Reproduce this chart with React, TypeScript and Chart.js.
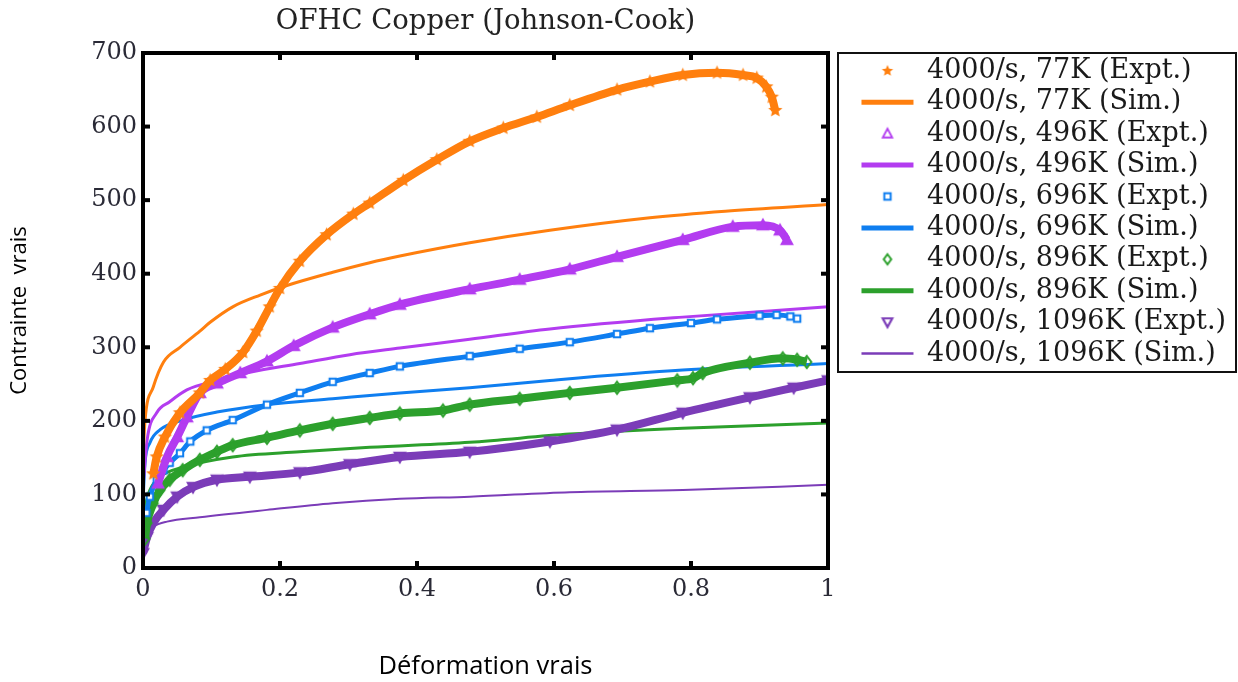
import React, { useEffect, useRef } from 'react';
import { Chart, registerables } from 'chart.js';

Chart.register(...registerables);

// ---------- text ----------
const TITLE = 'OFHC Copper (Johnson-Cook)';
const X_TITLE = 'Déformation vrais';
const Y_TITLE = 'Contrainte  vrais';
const xTickLabels = ['0', '0.2', '0.4', '0.6', '0.8', '1'];
const yTickLabels = ['0', '100', '200', '300', '400', '500', '600', '700'];

const seriesLabels = [
  '4000/s, 77K (Expt.)',
  '4000/s, 77K (Sim.)',
  '4000/s, 496K (Expt.)',
  '4000/s, 496K (Sim.)',
  '4000/s, 696K (Expt.)',
  '4000/s, 696K (Sim.)',
  '4000/s, 896K (Expt.)',
  '4000/s, 896K (Sim.)',
  '4000/s, 1096K (Expt.)',
  '4000/s, 1096K (Sim.)',
];

// ---------- data (true strain, true stress MPa) ----------
const expt77Strain = [0.015, 0.02, 0.032, 0.054, 0.083, 0.098, 0.12, 0.146, 0.166, 0.185, 0.2, 0.229, 0.268, 0.307, 0.331, 0.38, 0.429, 0.477, 0.526, 0.575, 0.623, 0.692, 0.74, 0.788, 0.838, 0.876, 0.896, 0.91, 0.918, 0.923];
const expt77Stress = [128, 151, 178, 211, 238, 255, 270, 293, 322, 355, 380, 417, 453, 481, 496, 527, 555, 580, 598, 613, 629, 650, 661, 670, 673, 670, 666, 654, 640, 622];

const sim77Strain = [0, 0.003, 0.015, 0.03, 0.054, 0.083, 0.098, 0.131, 0.171, 0.21, 0.277, 0.331, 0.375, 0.477, 0.594, 0.74, 0.85, 1.0];
const sim77Stress = [150, 201, 246, 280, 300, 322, 334, 355, 371, 384, 402, 415, 424, 442, 459, 476, 485, 494];

const expt496Strain = [0.022, 0.035, 0.05, 0.064, 0.083, 0.108, 0.142, 0.181, 0.22, 0.277, 0.331, 0.375, 0.477, 0.55, 0.623, 0.692, 0.788, 0.861, 0.905, 0.93, 0.94];
const expt496Stress = [115, 151, 178, 205, 238, 251, 265, 281, 302, 327, 345, 358, 379, 392, 406, 423, 446, 464, 466, 459, 446];

const sim496Strain = [0, 0.006, 0.02, 0.039, 0.064, 0.108, 0.156, 0.229, 0.302, 0.375, 0.477, 0.594, 0.788, 1.0];
const sim496Stress = [110, 174, 211, 226, 242, 255, 266, 278, 290, 299, 311, 325, 341, 355];

const expt696Strain = [0.005, 0.01, 0.02, 0.03, 0.039, 0.054, 0.069, 0.093, 0.131, 0.181, 0.229, 0.277, 0.331, 0.375, 0.477, 0.55, 0.623, 0.692, 0.74, 0.8, 0.838, 0.9, 0.925, 0.945, 0.955];
const expt696Stress = [75, 97, 120, 133, 143, 156, 172, 187, 201, 222, 238, 253, 265, 274, 288, 298, 307, 318, 326, 333, 338, 343, 344, 342, 339];

const sim696Strain = [0, 0.003, 0.01, 0.025, 0.058, 0.108, 0.181, 0.277, 0.375, 0.477, 0.594, 0.788, 1.0];
const sim696Stress = [90, 143, 170, 188, 201, 212, 222, 230, 238, 245, 255, 269, 278];

const expt896Strain = [0.003, 0.006, 0.015, 0.025, 0.039, 0.058, 0.083, 0.108, 0.131, 0.181, 0.229, 0.277, 0.331, 0.375, 0.438, 0.477, 0.55, 0.623, 0.692, 0.78, 0.803, 0.817, 0.886, 0.934, 0.955, 0.969];
const expt896Stress = [40, 61, 88, 106, 120, 133, 147, 158, 167, 177, 187, 196, 204, 210, 214, 222, 230, 238, 245, 255, 258, 265, 279, 285, 283, 280];

const sim896Strain = [0, 0.01, 0.025, 0.058, 0.131, 0.229, 0.331, 0.477, 0.623, 0.788, 1.0];
const sim896Stress = [75, 106, 124, 137, 151, 158, 164, 171, 182, 190, 197];

const expt1096Strain = [0, 0.006, 0.015, 0.03, 0.05, 0.073, 0.108, 0.156, 0.229, 0.302, 0.375, 0.477, 0.594, 0.692, 0.788, 0.886, 0.95, 1.0];
const expt1096Stress = [20, 42, 61, 79, 97, 110, 120, 124, 130, 141, 151, 158, 172, 188, 211, 232, 245, 255];

const sim1096Strain = [0, 0.015, 0.035, 0.083, 0.181, 0.277, 0.375, 0.477, 0.623, 0.788, 1.0];
const sim1096Stress = [42, 56, 63, 69, 79, 88, 94, 97, 103, 106, 113];

// ---------- styles ----------
const C77 = '#ff7f0e';
const C496 = '#b33cf0';
const C696 = '#0f7ef0';
const C896 = '#2ca02c';
const C1096 = '#7b3cb8';

const SERIF = "'DejaVu Serif', serif";
const SANS = "'Open Sans', sans-serif";

function zip(xs: number[], ys: number[]) {
  return xs.map((x, i) => ({ x, y: ys[i] }));
}

function makeMarker(shape: string, color: string, size: number, fill: string | null, lw: number) {
  const pad = Math.ceil(lw) + 1;
  const c = document.createElement('canvas');
  c.width = c.height = Math.ceil(size + pad * 2);
  const ctx = c.getContext('2d')!;
  const cx = c.width / 2;
  const cy = c.height / 2;
  const r = size / 2;
  ctx.beginPath();
  if (shape === 'star') {
    for (let i = 0; i < 10; i++) {
      const a = -Math.PI / 2 + (i * Math.PI) / 5;
      const rr = i % 2 === 0 ? r : r * 0.45;
      ctx.lineTo(cx + rr * Math.cos(a), cy + rr * Math.sin(a));
    }
    ctx.closePath();
  } else if (shape === 'triangle') {
    ctx.moveTo(cx, cy - r);
    ctx.lineTo(cx + r * 0.95, cy + r * 0.75);
    ctx.lineTo(cx - r * 0.95, cy + r * 0.75);
    ctx.closePath();
  } else if (shape === 'triangleDown') {
    ctx.moveTo(cx, cy + r);
    ctx.lineTo(cx + r * 0.95, cy - r * 0.75);
    ctx.lineTo(cx - r * 0.95, cy - r * 0.75);
    ctx.closePath();
  } else if (shape === 'square') {
    ctx.rect(cx - r * 0.8, cy - r * 0.8, r * 1.6, r * 1.6);
  } else if (shape === 'diamond') {
    ctx.moveTo(cx, cy - r);
    ctx.lineTo(cx + r * 0.75, cy);
    ctx.lineTo(cx, cy + r);
    ctx.lineTo(cx - r * 0.75, cy);
    ctx.closePath();
  }
  if (fill) {
    ctx.fillStyle = fill;
    ctx.fill();
  }
  if (lw > 0) {
    ctx.strokeStyle = color;
    ctx.lineWidth = lw;
    ctx.stroke();
  }
  return c;
}

export default function App() {
  const ref = useRef<HTMLCanvasElement | null>(null);

  useEffect(() => {
    const canvas = ref.current;
    if (!canvas) return;

    const W = 1238;
    const PLOT_LEFT = 143;
    const PLOT_RIGHT = 828;
    const PLOT_BOTTOM = 568;
    const legendFontSize = 27;
    const legendPad = 4.4;
    const boxW = 52;

    const meas = document.createElement('canvas').getContext('2d')!;
    meas.font = `${legendFontSize}px ${SERIF}`;
    const maxText = Math.max(...seriesLabels.map((s) => meas.measureText(s).width));
    const legendWidth = legendPad + boxW + legendFontSize / 2 + maxText + 10;
    const gap = Math.max(4, W - 2 - legendWidth - PLOT_RIGHT);

    // data markers
    const mStar = makeMarker('star', C77, 15, C77, 0);
    const mTri = makeMarker('triangle', C496, 12, C496, 1.5);
    const mSq = makeMarker('square', C696, 8, '#ffffff', 2);
    const mDia = makeMarker('diamond', C896, 12, null, 2);
    const mTriD = makeMarker('triangleDown', C1096, 12, C1096, 1.5);
    // legend markers
    const lStar = makeMarker('star', C77, 12, C77, 0);
    const lTri = makeMarker('triangle', C496, 10, null, 1.8);
    const lSq = makeMarker('square', C696, 8, null, 2);
    const lDia = makeMarker('diamond', C896, 10, null, 2);
    const lTriD = makeMarker('triangleDown', C1096, 10, null, 2.2);

    const exptDs = (label: string, xs: number[], ys: number[], color: string, marker: HTMLCanvasElement, bw: number) => ({
      label,
      data: zip(xs, ys),
      borderColor: color,
      backgroundColor: color,
      borderWidth: bw,
      pointStyle: marker,
      pointRadius: 5,
      cubicInterpolationMode: 'monotone' as const,
      order: 0,
    });
    const simDs = (label: string, xs: number[], ys: number[], color: string, bw: number) => ({
      label,
      data: zip(xs, ys),
      borderColor: color,
      backgroundColor: color,
      borderWidth: bw,
      pointRadius: 0,
      cubicInterpolationMode: 'monotone' as const,
      order: 1,
    });

    const datasets = [
      exptDs(seriesLabels[0], expt77Strain, expt77Stress, C77, mStar, 8),
      simDs(seriesLabels[1], sim77Strain, sim77Stress, C77, 3),
      exptDs(seriesLabels[2], expt496Strain, expt496Stress, C496, mTri, 8),
      simDs(seriesLabels[3], sim496Strain, sim496Stress, C496, 3),
      exptDs(seriesLabels[4], expt696Strain, expt696Stress, C696, mSq, 5),
      simDs(seriesLabels[5], sim696Strain, sim696Stress, C696, 3),
      exptDs(seriesLabels[6], expt896Strain, expt896Stress, C896, mDia, 8),
      simDs(seriesLabels[7], sim896Strain, sim896Stress, C896, 3),
      exptDs(seriesLabels[8], expt1096Strain, expt1096Stress, C1096, mTriD, 8),
      simDs(seriesLabels[9], sim1096Strain, sim1096Stress, C1096, 2),
    ];

    const legendMarkers: any[] = [lStar, 'line', lTri, 'line', lSq, 'line', lDia, 'line', lTriD, 'line'];
    const legendColors = [C77, C77, C496, C496, C696, C696, C896, C896, C1096, C1096];
    const legendLineW = [1, 5, 1, 5, 1, 5, 1, 5, 1, 2.5];

    const framePlugin = {
      id: 'frame',
      afterDatasetsDraw(chart: any) {
        const { ctx, chartArea: a, scales } = chart;
        ctx.save();
        ctx.fillStyle = '#000';
        scales.x.ticks.forEach((t: any) => {
          const px = scales.x.getPixelForValue(t.value);
          ctx.fillRect(px - 2, a.bottom - 7, 4, 7);
          ctx.fillRect(px - 2, a.top, 4, 7);
        });
        scales.y.ticks.forEach((t: any) => {
          const py = scales.y.getPixelForValue(t.value);
          ctx.fillRect(a.left, py - 2, 7, 4);
          ctx.fillRect(a.right - 7, py - 2, 7, 4);
        });
        ctx.lineWidth = 4;
        ctx.strokeStyle = '#000';
        ctx.strokeRect(a.left, a.top, a.right - a.left, a.bottom - a.top);
        ctx.restore();
      },
    };

    const legendBorderPlugin = {
      id: 'legendBorder',
      afterDraw(chart: any) {
        const lg = chart.legend;
        if (!lg) return;
        const a = chart.chartArea;
        const n = seriesLabels.length;
        const y1 = lg.top + legendPad + n * (legendFontSize + legendPad) - legendPad + 5;
        const x0 = a.right + 10;
        const x1 = chart.width - 2;
        const ctx = chart.ctx;
        ctx.save();
        ctx.lineWidth = 2;
        ctx.strokeStyle = '#111';
        ctx.strokeRect(x0, a.top, x1 - x0, y1 - a.top);
        ctx.restore();
      },
    };

    const chart = new Chart(canvas, {
      type: 'line',
      data: { datasets: datasets as any },
      options: {
        animation: false,
        responsive: true,
        maintainAspectRatio: false,
        layout: { padding: { left: 0, right: 2, top: 0, bottom: 0 } },
        plugins: {
          title: {
            display: true,
            text: TITLE,
            fullSize: false,
            color: '#222',
            font: { family: SERIF, size: 27.5, weight: 'normal', lineHeight: 1.2 },
            padding: { top: 5, bottom: 15 },
          },
          legend: {
            position: 'right',
            align: 'start',
            fullSize: false,
            maxWidth: 600,
            labels: {
              usePointStyle: true,
              pointStyleWidth: boxW,
              boxHeight: 8,
              padding: legendPad,
              color: '#1a1a1a',
              font: { family: SERIF, size: legendFontSize },
              generateLabels: () =>
                seriesLabels.map((text, i) => ({
                  text,
                  datasetIndex: i,
                  hidden: false,
                  pointStyle: legendMarkers[i],
                  fillStyle: legendColors[i],
                  strokeStyle: legendColors[i],
                  lineWidth: legendLineW[i],
                  fontColor: '#1a1a1a',
                })) as any,
            },
          },
          tooltip: { enabled: false },
        },
        scales: {
          x: {
            type: 'linear',
            min: 0,
            max: 1,
            afterFit: (s: any) => {
              s.height = 682 - PLOT_BOTTOM;
            },
            grid: { display: false, drawTicks: false },
            border: { display: false },
            ticks: {
              stepSize: 0.2,
              padding: 7,
              autoSkip: false,
              maxRotation: 0,
              color: '#2a2a36',
              font: { family: SERIF, size: 24 },
              callback: (_v: any, i: number) => xTickLabels[i],
            },
            title: {
              display: true,
              text: X_TITLE,
              color: '#000',
              font: { family: SANS, size: 25.5, lineHeight: 1.2 },
              padding: { top: 0, bottom: 0 },
            },
          },
          y: {
            type: 'linear',
            min: 0,
            max: 700,
            afterFit: (s: any) => {
              s.width = PLOT_LEFT;
            },
            grid: { display: false, drawTicks: false },
            border: { display: false },
            ticks: {
              stepSize: 100,
              padding: 6,
              color: '#2a2a36',
              font: { family: SERIF, size: 24 },
              callback: (_v: any, i: number) => yTickLabels[i],
            },
            title: {
              display: true,
              text: Y_TITLE,
              color: '#000',
              font: { family: SANS, size: 22, lineHeight: 1.2 },
              padding: { top: 7, bottom: 0 },
            },
          },
          gap: {
            type: 'linear',
            position: 'right',
            display: true,
            grid: { display: false, drawTicks: false },
            border: { display: false },
            ticks: { display: false },
            afterFit: (s: any) => {
              s.width = gap;
            },
          },
        },
      },
      plugins: [framePlugin, legendBorderPlugin],
    } as any);

    return () => chart.destroy();
  }, []);

  return (
    <div style={{ position: 'absolute', left: 0, top: 0, width: 1238, height: 682, background: '#fff' }}>
      <canvas ref={ref} />
    </div>
  );
}
